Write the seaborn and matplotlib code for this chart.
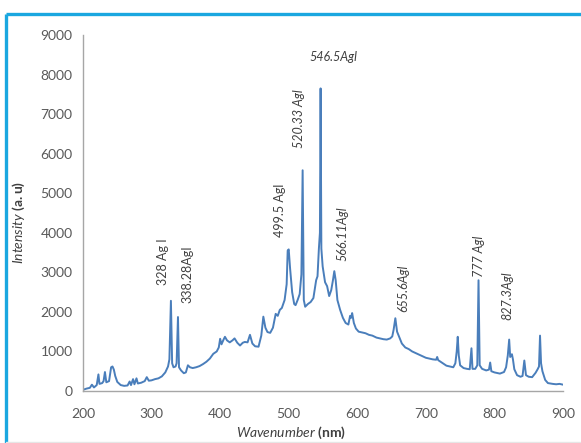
import matplotlib
matplotlib.use("Agg")
import matplotlib.pyplot as plt
from matplotlib.lines import Line2D
from matplotlib.ticker import MultipleLocator
import numpy as np
import pandas as pd
import seaborn as sns

# spectrum (nm, a.u.)
wavelength = [
    200, 205, 210, 213, 216, 220, 222.5, 224, 228, 230, 232, 234, 238, 241, 243, 245,
    247, 250, 255, 260, 265, 268, 270, 273, 275, 278, 280, 285, 290, 293, 296, 300,
    305, 310, 315, 320, 324, 326, 328.2, 330, 332, 335, 336.5, 338.5, 340, 343, 347,
    350, 353, 356, 360, 365, 370, 375, 380, 385, 390, 395, 398, 400, 402, 405, 407,
    410, 414, 418, 421, 425, 429, 433, 436, 440, 443.5, 447, 451, 456, 460, 463, 466,
    469, 473, 477, 481, 484, 487, 490, 494, 497, 498.5, 500, 502, 505, 508, 510, 513,
    516, 518.5, 520.3, 522, 524, 528, 532, 536, 540, 542, 544, 545.5, 546.5, 547.6,
    549.5, 553, 556, 559, 562, 564.5, 566.5, 568.5, 571, 575, 579, 583, 587, 589.5,
    591, 592.5, 595, 598, 602, 607, 612, 617, 622, 628, 633, 638, 643, 648, 651, 653,
    655.5, 658, 661, 665, 670, 675, 680, 690, 700, 710, 715, 716.5, 718, 725, 730,
    735, 740, 743, 745, 746.5, 748, 750, 755, 760, 764, 766.5, 768, 772, 775, 776.8,
    778.5, 782, 788, 792, 793.8, 795.5, 800, 808, 814, 817, 819.5, 821.5, 823, 825.5,
    827, 829, 833, 838, 841, 843.6, 846, 850, 855, 860, 863, 865, 866.5, 868, 870,
    874, 878, 885, 890, 895, 900,
]
intensity = [
    30, 60, 80, 160, 90, 150, 420, 180, 200, 250, 480, 220, 250, 600, 620, 540,
    380, 230, 150, 130, 140, 240, 150, 300, 170, 320, 190, 210, 250, 350, 260, 270,
    300, 320, 370, 470, 620, 800, 2280, 700, 600, 620, 700, 1870, 600, 520, 450,
    470, 650, 600, 580, 600, 630, 680, 740, 820, 940, 1000, 1100, 1320, 1180, 1300, 1370,
    1280, 1230, 1280, 1330, 1220, 1150, 1220, 1240, 1230, 1420, 1200, 1130, 1120, 1400, 1880, 1600,
    1490, 1470, 1600, 1950, 1900, 2050, 2100, 2300, 2700, 3550, 3580, 3100, 2500, 2200, 2170, 2300,
    2450, 2950, 5580, 2300, 2130, 2200, 2250, 2350, 2800, 2900, 3600, 4000, 7650, 3600,
    3150, 2750, 2650, 2400, 2550, 2800, 3030, 2800, 2300, 2050, 1850, 1720, 1680, 1900,
    1850, 1970, 1720, 1580, 1500, 1480, 1460, 1420, 1400, 1350, 1330, 1310, 1300, 1330, 1380, 1550,
    1840, 1500, 1370, 1200, 1100, 1060, 1000, 920, 840, 800, 790, 860, 780, 700, 640,
    620, 600, 700, 1000, 1370, 900, 650, 580, 560, 550, 1080, 560, 560, 650, 2800,
    650, 560, 520, 540, 720, 500, 470, 440, 480, 600, 900, 1300, 860, 930,
    800, 550, 400, 360, 380, 770, 400, 360, 350, 460, 550, 620, 1400, 700, 500,
    280, 200, 180, 170, 180, 160,
]

# peak labels: text, x (nm), y (a.u.), rotation, italic
label_text = ["328 Ag I", "338.28AgI", "499.5 Agl", "520.33 Agl", "546.5Agl",
              "566.11Agl", "655.6Agl", "777 Agl", "827.3Agl"]
label_x = [316.7, 351.7, 487.3, 515.0, 564.6, 577.7, 666.7, 777.5, 818.3]
label_y = [2680, 2225, 3890, 6140, 8443, 3290, 2000, 2880, 1795]
label_rot = [90, 90, 90, 90, 0, 90, 90, 90, 90]
label_italic = [False, False, False, True, True, True, True, True, True]

sns.set_style("white")
plt.rcParams["font.family"] = ["Lato", "DejaVu Sans"]
plt.rcParams["mathtext.fontset"] = "custom"
plt.rcParams["mathtext.it"] = "Lato:italic"
plt.rcParams["mathtext.bf"] = "Lato:bold"
plt.rcParams["mathtext.rm"] = "Lato"

df = pd.DataFrame({"nm": wavelength, "I": intensity})

fig = plt.figure(figsize=(5.81, 4.43), dpi=100)
ax = fig.add_axes([83 / 581, 1 - 391 / 443, 480 / 581, 356 / 443])

sns.lineplot(data=df, x="nm", y="I", ax=ax, color="#4a7ebb", linewidth=1.4,
             estimator=None)

ax.set_xlim(200, 900)
ax.set_ylim(0, 9000)
ax.xaxis.set_major_locator(MultipleLocator(100))
ax.xaxis.set_minor_locator(MultipleLocator(20))
ax.yaxis.set_major_locator(MultipleLocator(1000))
ax.yaxis.set_minor_locator(MultipleLocator(200))

for s in ["top", "right"]:
    ax.spines[s].set_visible(False)
for s in ["left", "bottom"]:
    ax.spines[s].set_color("#a6a6a6")
    ax.spines[s].set_linewidth(1.0)

ax.tick_params(axis="both", which="both", direction="out", color="#a6a6a6",
               labelcolor="#595959", labelsize=10)
ax.tick_params(axis="both", which="major", length=4, width=0.8)
ax.tick_params(axis="both", which="minor", length=3.5, width=0.8)
ax.tick_params(axis="x", which="major", pad=8)
ax.tick_params(axis="y", which="major", pad=3.5)

ax.set_xlabel(r"$\it{Wavenumber}$ $\bf{(nm)}$", fontsize=10, color="#404040")
ax.set_ylabel(r"$\it{Intensity}$ $\bf{(a.u)}$", fontsize=10, color="#404040")
ax.xaxis.set_label_coords(0.433, -0.095)
ax.yaxis.set_label_coords(-0.117, 0.475)

for t, x, y, r, it in zip(label_text, label_x, label_y, label_rot, label_italic):
    if r == 90:
        ax.text(x, y, t, rotation=90, ha="center", va="bottom", fontsize=9,
                color="#404040", style="italic" if it else "normal")
    else:
        ax.text(x, y, t, ha="center", va="center", fontsize=9,
                color="#404040", style="italic" if it else "normal")

# blue frame around the picture
top = 1 - 13.5 / 443
fig.add_artist(Line2D([5.5 / 581, 1], [top, top], transform=fig.transFigure,
                      color="#1aa7e0", linewidth=2.4, solid_capstyle="butt"))
fig.add_artist(Line2D([5.5 / 581, 5.5 / 581], [0, top], transform=fig.transFigure,
                      color="#1aa7e0", linewidth=2.4, solid_capstyle="butt"))
fig.add_artist(Line2D([5.5 / 581, 1], [1.5 / 443, 1.5 / 443], transform=fig.transFigure,
                      color="#e6e6e6", linewidth=1.0))

fig.savefig("out.png", dpi=100)
